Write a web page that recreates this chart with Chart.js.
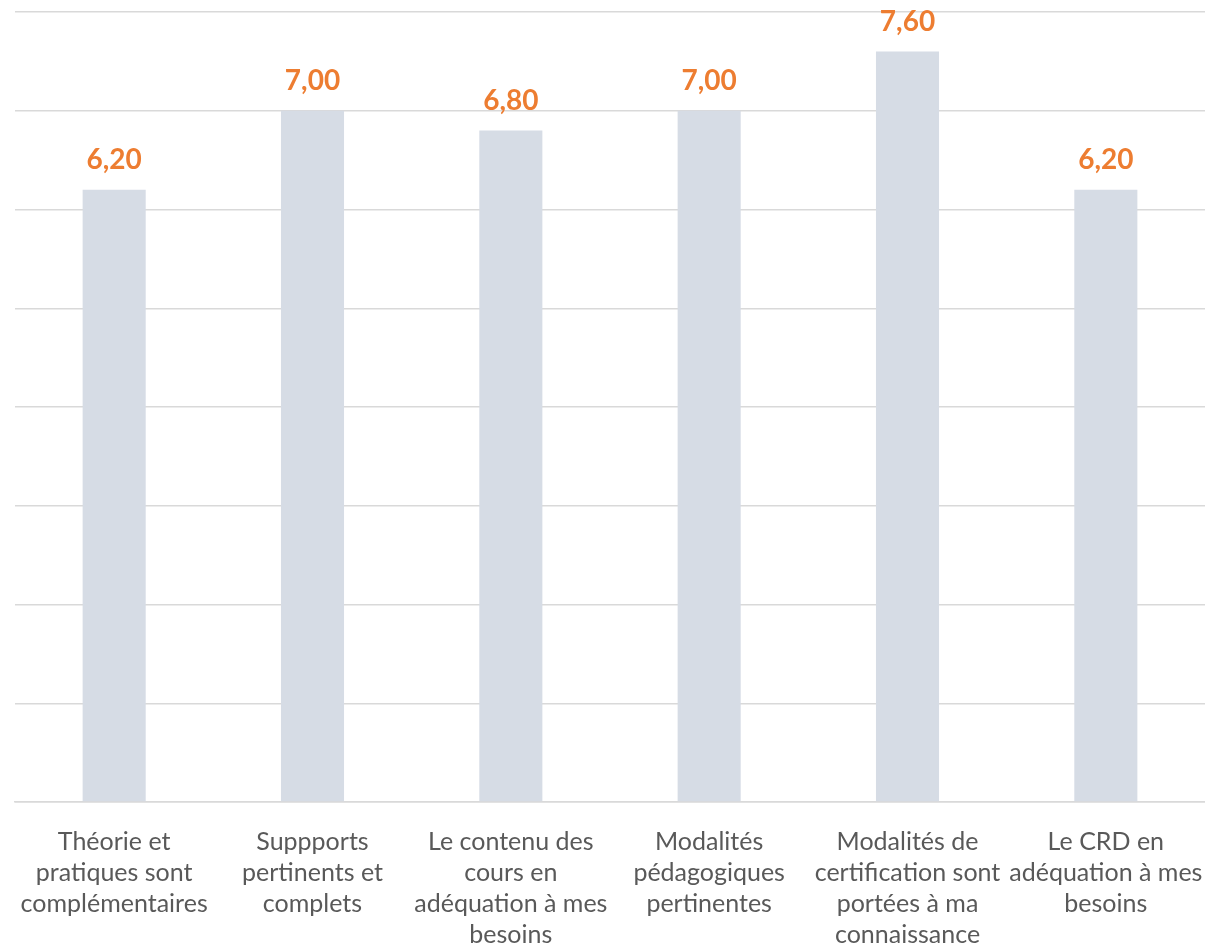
<!DOCTYPE html>
<html>
<head>
<meta charset="utf-8">
<script src="https://cdn.jsdelivr.net/npm/chart.js@4/dist/chart.umd.min.js"></script>
<style>
html,body{margin:0;padding:0;background:#fff;}
#wrap{width:1205px;height:948px;position:relative;}
</style>
</head>
<body>
<div id="wrap"><canvas id="c" width="1205" height="948"></canvas></div>
<script>
const categories = [
  ["Théorie et", "pratiques sont", "complémentaires"],
  ["Suppports", "pertinents et", "complets"],
  ["Le contenu des", "cours en", "adéquation à mes", "besoins"],
  ["Modalités", "pédagogiques", "pertinentes"],
  ["Modalités de", "certification sont", "portées à ma", "connaissance"],
  ["Le CRD en", "adéquation à mes", "besoins"]
];
const values = [6.2, 7.0, 6.8, 7.0, 7.6, 6.2];
const valueLabels = ["6,20", "7,00", "6,80", "7,00", "7,60", "6,20"];

const FONT = "Lato, 'Open Sans', sans-serif";

const barLabels = {
  id: 'barLabels',
  afterDatasetsDraw(chart) {
    const ctx = chart.ctx;
    const meta = chart.getDatasetMeta(0);
    ctx.save();
    ctx.fillStyle = '#ED7D31';
    ctx.font = 'bold 28px ' + FONT;
    ctx.textAlign = 'center';
    ctx.textBaseline = 'middle';
    meta.data.forEach((bar, i) => {
      ctx.fillText(valueLabels[i], bar.x, bar.y - 30);
    });
    ctx.restore();
  }
};

new Chart(document.getElementById('c'), {
  type: 'bar',
  data: {
    labels: categories,
    datasets: [{
      data: values,
      backgroundColor: '#D6DCE5',
      borderWidth: 0,
      categoryPercentage: 1,
      barPercentage: 0.318
    }]
  },
  options: {
    responsive: false,
    animation: false,
    layout: { padding: { left: 15, right: 0, top: 12, bottom: 0 } },
    plugins: { legend: { display: false }, tooltip: { enabled: false } },
    scales: {
      y: {
        min: 0, max: 8,
        ticks: { display: false, stepSize: 1 },
        grid: { color: '#D9D9D9', lineWidth: 1.5, drawTicks: false },
        border: { display: false }
      },
      x: {
        grid: { display: false, drawTicks: false },
        border: { display: true, color: '#D9D9D9', width: 1.5 },
        afterFit(scale) {
          scale.height = 146;
          scale.paddingLeft = 0;
          scale.paddingRight = 0;
        },
        ticks: {
          color: '#595959',
          font: { family: FONT, size: 25, lineHeight: 1.24 },
          padding: 24,
          maxRotation: 0,
          autoSkip: false
        }
      }
    }
  },
  plugins: [barLabels]
});
</script>
</body>
</html>
